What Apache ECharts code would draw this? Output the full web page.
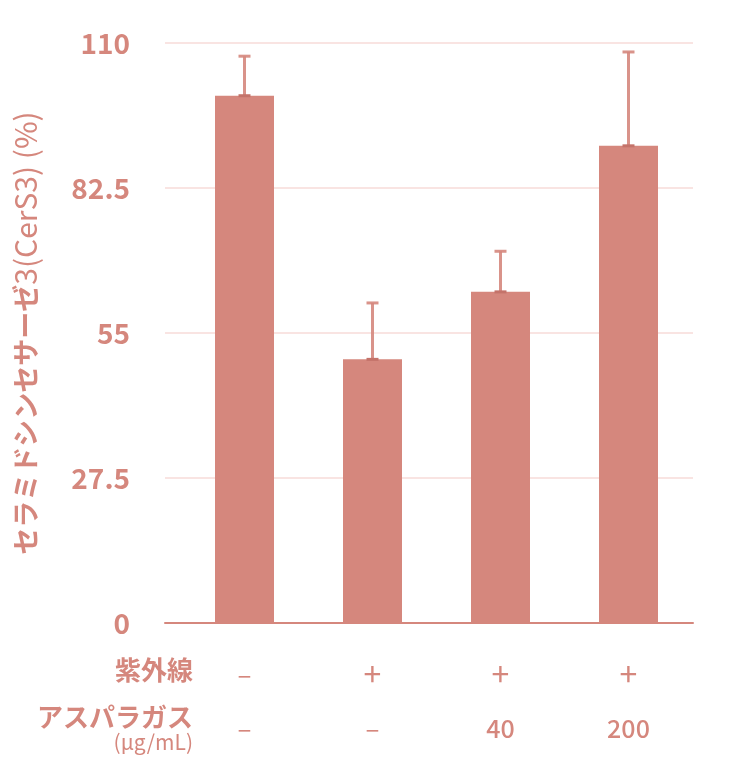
<!DOCTYPE html>
<html><head><meta charset="utf-8">
<script src="https://cdn.jsdelivr.net/npm/echarts@6/dist/echarts.min.js"></script>
<style>html,body{margin:0;padding:0;background:#fff}#c{width:753px;height:772px}</style>
</head><body><div id="c"></div>
<script>
const categories = ['ctrl', 'uv', 'asp40', 'asp200'];
const uvRow = ['–', '+', '+', '+'];
const asparagusRow = ['–', '–', '40', '200'];
const means = [100, 50, 62.8, 90.5];
const errors = [7.5, 10.7, 7.7, 17.8];
const yTicks = [0, 27.5, 55, 82.5, 110];

const C = '#d5877d';
const FONT = '"Noto Sans CJK JP", "Noto Sans", sans-serif';
const chart = echarts.init(document.getElementById('c'), null, {renderer: 'canvas'});

const errData = categories.map((c, i) => [i, means[i], means[i] + errors[i]]);

chart.setOption({
  animation: false,
  backgroundColor: '#fff',
  grid: [
    {left: 165, right: 60, top: 43, bottom: 149, containLabel: false, outerBoundsMode: 'none'},
    {left: 180.5, width: 512, top: 43, bottom: 149, containLabel: false, outerBoundsMode: 'none'}
  ],
  xAxis: [
    {gridIndex: 0, type: 'value', min: 0, max: 1,
     axisLine: {show: true, lineStyle: {color: C, width: 2}},
     axisTick: {show: false}, axisLabel: {show: false}, splitLine: {show: false}},
    {gridIndex: 1, type: 'category', data: categories,
     axisLine: {show: false}, axisTick: {show: false},
     axisLabel: {
       margin: 24, color: C, fontFamily: FONT, fontSize: 26, fontWeight: 500, lineHeight: 54,
       formatter: (v, i) => {
         const a = asparagusRow[i];
         const b = /\d/.test(a) ? '{n|' + a + '}' : '{s|' + a + '}';
         const u = uvRow[i] === '+' ? '{p|+}' : '{s|' + uvRow[i] + '}';
         return u + '\n' + b;
       },
       rich: {
         s: {fontSize: 26, fontWeight: 'normal', color: C, fontFamily: FONT, lineHeight: 54},
         p: {fontSize: 32, fontWeight: 'normal', color: C, fontFamily: FONT, lineHeight: 54},
         n: {fontSize: 25, fontWeight: 500, color: C, fontFamily: FONT, lineHeight: 54}
       }
     }}
  ],
  yAxis: [
    {gridIndex: 0, type: 'value', min: 0, max: 110, interval: 27.5,
     name: '{k|セラミドシンセサーゼ}{l|3(CerS3) (%)}', nameLocation: 'middle', nameRotate: 90, nameGap: 124,
     nameTextStyle: {color: C, fontFamily: FONT, fontSize: 27,
       rich: {
         k: {color: C, fontFamily: FONT, fontSize: 27, fontWeight: 'bold'},
         l: {color: C, fontFamily: FONT, fontSize: 30, fontWeight: 'normal'}
       }},
     axisLine: {show: false}, axisTick: {show: false},
     axisLabel: {margin: 35, color: C, fontFamily: FONT, fontSize: 28, fontWeight: 'bold',
       formatter: v => String(v)},
     splitLine: {show: true, lineStyle: {color: '#f9e4e2', width: 2}}},
    {gridIndex: 1, type: 'value', min: 0, max: 110, interval: 27.5, show: false}
  ],
  series: [
    {type: 'bar', xAxisIndex: 1, yAxisIndex: 1, data: means, barWidth: 59,
     itemStyle: {color: C}},
    {type: 'custom', xAxisIndex: 1, yAxisIndex: 1, data: errData, z: 5,
     renderItem: (params, api) => {
       const x = api.value(0);
       const lo = api.coord([x, api.value(1)]);
       const hi = api.coord([x, api.value(2)]);
       const hw = 6;
       const st = {stroke: '#d5877d', lineWidth: 3, opacity: 0.9};
       return {type: 'group', children: [
         {type: 'line', shape: {x1: lo[0], y1: lo[1], x2: hi[0], y2: hi[1]}, style: st},
         {type: 'line', shape: {x1: hi[0] - hw, y1: hi[1], x2: hi[0] + hw, y2: hi[1]}, style: st},
         {type: 'line', shape: {x1: lo[0] - hw, y1: lo[1], x2: lo[0] + hw, y2: lo[1]}, style: {stroke: '#c4736a', lineWidth: 3}}
       ]};
     }}
  ],
  graphic: [
    {type: 'text', right: 753 - 193, top: 657, style: {text: '紫外線', fill: C, font: 'bold 26px ' + FONT}},
    {type: 'text', right: 753 - 193, top: 704, style: {text: 'アスパラガス', fill: C, font: 'bold 26px ' + FONT}},
    {type: 'text', right: 753 - 193, top: 732, style: {text: '(μg/mL)', fill: C, font: '21px ' + FONT}}
  ]
});
</script></body></html>
